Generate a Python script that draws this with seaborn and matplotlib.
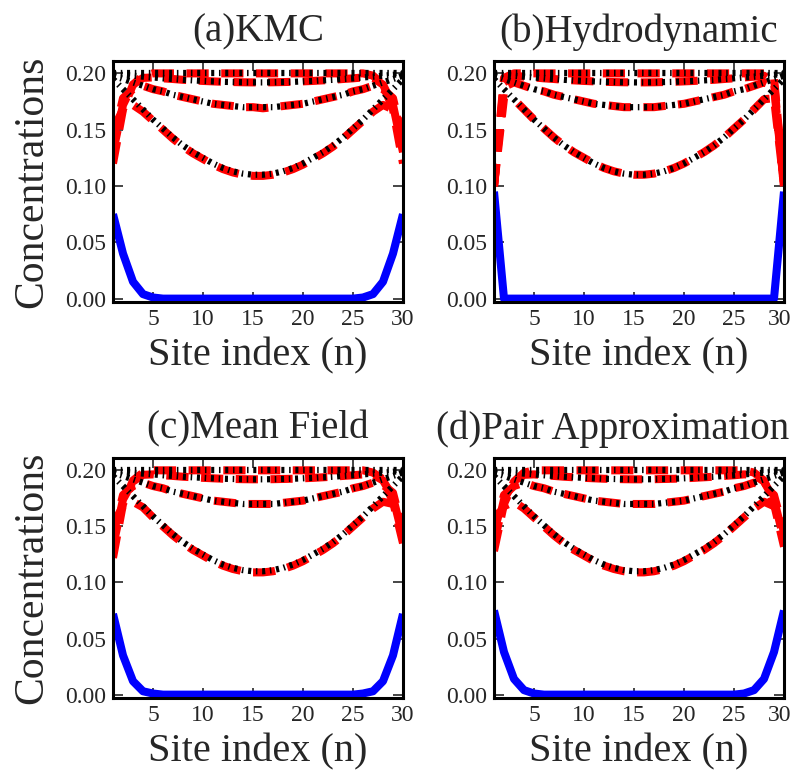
import matplotlib
matplotlib.use("Agg")
import matplotlib.pyplot as plt
import matplotlib.transforms as mtransforms
import seaborn as sns

sns.set_style("ticks")
plt.rcParams['font.family'] = ['Liberation Serif', 'DejaVu Serif']
plt.rcParams['lines.scale_dashes'] = False

sites = list(range(1, 31))
titles = ["(a)KMC", "(b)Hydrodynamic", "(c)Mean Field", "(d)Pair Approximation"]
xticks = [5, 10, 15, 20, 25, 30]
yticks = [0.00, 0.05, 0.10, 0.15, 0.20]
ytick_labels = ["0.00", "0.05", "0.10", "0.15", "0.20"]

# black dash-dot profiles (same in all panels)
black_flat = [0.200] * 30
black_upper = [0.1996, 0.1987, 0.1979, 0.1971, 0.1964, 0.1956, 0.1950, 0.1943, 0.1938, 0.1933,
               0.1929, 0.1925, 0.1923, 0.1921, 0.1920, 0.1920, 0.1921, 0.1923, 0.1925, 0.1929,
               0.1933, 0.1938, 0.1943, 0.1950, 0.1956, 0.1964, 0.1971, 0.1979, 0.1987, 0.1996]
black_mid = [0.198, 0.195, 0.192, 0.189, 0.186, 0.184, 0.181, 0.179, 0.177, 0.175,
             0.173, 0.172, 0.171, 0.170, 0.170, 0.170, 0.170, 0.171, 0.172, 0.173,
             0.175, 0.177, 0.179, 0.181, 0.184, 0.186, 0.189, 0.192, 0.195, 0.198]
black_low = [0.195, 0.186, 0.177, 0.168, 0.159, 0.151, 0.143, 0.136, 0.130, 0.125,
             0.120, 0.116, 0.113, 0.111, 0.110, 0.110, 0.111, 0.113, 0.116, 0.120,
             0.125, 0.130, 0.136, 0.143, 0.151, 0.159, 0.168, 0.177, 0.186, 0.195]

# red dashed profiles, panel (a) KMC
red_a_top = [0.120, 0.168, 0.190, 0.198] + [0.200] * 22 + [0.198, 0.190, 0.168, 0.120]
red_a_upper = [0.130, 0.172, 0.190, 0.196, 0.1964, 0.1956, 0.1950, 0.1943, 0.1938, 0.1933,
               0.1929, 0.1925, 0.1923, 0.1921, 0.1920, 0.1920, 0.1921, 0.1923, 0.1925, 0.1929,
               0.1933, 0.1938, 0.1943, 0.1950, 0.1956, 0.1964, 0.196, 0.190, 0.172, 0.130]
red_a_mid = [0.140, 0.178, 0.186, 0.189, 0.186, 0.184, 0.181, 0.179, 0.177, 0.175,
             0.173, 0.172, 0.171, 0.170, 0.170, 0.169, 0.170, 0.171, 0.172, 0.173,
             0.175, 0.177, 0.179, 0.181, 0.184, 0.186, 0.189, 0.186, 0.178, 0.140]
red_a_low = [0.150, 0.168, 0.172, 0.166, 0.158, 0.150, 0.142, 0.135, 0.129, 0.124,
             0.119, 0.115, 0.112, 0.110, 0.109, 0.109, 0.110, 0.112, 0.115, 0.119,
             0.124, 0.129, 0.135, 0.142, 0.150, 0.158, 0.166, 0.172, 0.168, 0.150]
blue_a = [0.075, 0.040, 0.015, 0.004, 0.001] + [0.0] * 20 + [0.001, 0.004, 0.015, 0.040, 0.075]

# panel (b) Hydrodynamic
red_b_top = [0.100, 0.196] + [0.200] * 26 + [0.196, 0.100]
red_b_upper = [0.100, 0.192, 0.1979, 0.1971, 0.1964, 0.1956, 0.1950, 0.1943, 0.1938, 0.1933,
               0.1929, 0.1925, 0.1923, 0.1921, 0.1920, 0.1920, 0.1921, 0.1923, 0.1925, 0.1929,
               0.1933, 0.1938, 0.1943, 0.1950, 0.1956, 0.1964, 0.1971, 0.1979, 0.192, 0.100]
red_b_mid = [0.100, 0.188, 0.192, 0.189, 0.186, 0.184, 0.181, 0.179, 0.177, 0.175,
             0.173, 0.172, 0.171, 0.170, 0.170, 0.170, 0.170, 0.171, 0.172, 0.173,
             0.175, 0.177, 0.179, 0.181, 0.184, 0.186, 0.189, 0.192, 0.188, 0.100]
red_b_low = [0.100, 0.178, 0.177, 0.168, 0.159, 0.151, 0.143, 0.136, 0.130, 0.125,
             0.120, 0.116, 0.113, 0.111, 0.110, 0.110, 0.111, 0.113, 0.116, 0.120,
             0.125, 0.130, 0.136, 0.143, 0.151, 0.159, 0.168, 0.177, 0.178, 0.100]
blue_b = [0.095] + [0.0] * 28 + [0.095]

# panel (c) Mean Field
red_c_top = [0.122, 0.170, 0.191, 0.198] + [0.200] * 22 + [0.198, 0.192, 0.172, 0.135]
red_c_upper = [0.132, 0.174, 0.190, 0.196, 0.1964, 0.1956, 0.1950, 0.1943, 0.1938, 0.1933,
               0.1929, 0.1925, 0.1923, 0.1921, 0.1920, 0.1920, 0.1921, 0.1923, 0.1925, 0.1929,
               0.1933, 0.1938, 0.1943, 0.1950, 0.1956, 0.1964, 0.196, 0.191, 0.176, 0.140]
red_c_mid = [0.142, 0.178, 0.186, 0.189, 0.186, 0.184, 0.181, 0.179, 0.177, 0.175,
             0.173, 0.172, 0.171, 0.170, 0.170, 0.170, 0.170, 0.171, 0.172, 0.173,
             0.175, 0.177, 0.179, 0.181, 0.184, 0.186, 0.189, 0.187, 0.180, 0.145]
red_c_low = [0.152, 0.168, 0.172, 0.167, 0.158, 0.150, 0.142, 0.135, 0.129, 0.124,
             0.119, 0.115, 0.112, 0.110, 0.109, 0.109, 0.110, 0.112, 0.115, 0.119,
             0.124, 0.129, 0.135, 0.142, 0.150, 0.158, 0.166, 0.172, 0.170, 0.152]
blue_c = [0.072, 0.035, 0.012, 0.003, 0.001] + [0.0] * 20 + [0.001, 0.003, 0.012, 0.035, 0.072]

# panel (d) Pair Approximation
red_d_top = [0.128, 0.170, 0.190, 0.198] + [0.200] * 22 + [0.198, 0.191, 0.170, 0.132]
red_d_upper = [0.135, 0.174, 0.190, 0.196, 0.1964, 0.1956, 0.1950, 0.1943, 0.1938, 0.1933,
               0.1929, 0.1925, 0.1923, 0.1921, 0.1920, 0.1920, 0.1921, 0.1923, 0.1925, 0.1929,
               0.1933, 0.1938, 0.1943, 0.1950, 0.1956, 0.1964, 0.196, 0.190, 0.174, 0.138]
red_d_mid = [0.145, 0.178, 0.186, 0.189, 0.186, 0.184, 0.181, 0.179, 0.177, 0.175,
             0.173, 0.172, 0.171, 0.170, 0.170, 0.170, 0.170, 0.171, 0.172, 0.173,
             0.175, 0.177, 0.179, 0.181, 0.184, 0.186, 0.189, 0.186, 0.178, 0.145]
red_d_low = [0.155, 0.168, 0.172, 0.166, 0.158, 0.150, 0.142, 0.135, 0.129, 0.124,
             0.119, 0.115, 0.112, 0.110, 0.109, 0.109, 0.110, 0.112, 0.115, 0.119,
             0.124, 0.129, 0.135, 0.142, 0.150, 0.158, 0.166, 0.172, 0.168, 0.155]
blue_d = [0.075, 0.038, 0.014, 0.004, 0.001] + [0.0] * 20 + [0.001, 0.004, 0.014, 0.038, 0.075]

red_sets = [
    [red_a_top, red_a_upper, red_a_mid, red_a_low],
    [red_b_top, red_b_upper, red_b_mid, red_b_low],
    [red_c_top, red_c_upper, red_c_mid, red_c_low],
    [red_d_top, red_d_upper, red_d_mid, red_d_low],
]
black_set = [black_flat, black_upper, black_mid, black_low]
blue_set = [blue_a, blue_b, blue_c, blue_d]

W, H = 791, 781
fig = plt.figure(figsize=(W / 100, H / 100), dpi=100)
positions = [
    [113 / W, 1 - 302 / H, 290 / W, 241 / H],
    [494 / W, 1 - 302 / H, 290 / W, 241 / H],
    [113 / W, 1 - 698 / H, 290 / W, 240 / H],
    [494 / W, 1 - 698 / H, 290 / W, 240 / H],
]

red_ls = (0, (16, 9))
black_ls = (0, (2.2, 3.4, 1.1, 3.4))

for i in range(4):
    ax = fig.add_axes(positions[i])
    sns.lineplot(x=sites, y=blue_set[i], ax=ax, color="#0000ff", lw=5.8,
                 estimator=None, sort=False, solid_capstyle="butt")
    for vals in red_sets[i]:
        sns.lineplot(x=sites, y=vals, ax=ax, color="#ff0000", lw=5.8,
                     linestyle=red_ls, estimator=None, sort=False,
                     dash_capstyle="butt")
    for vals in black_set:
        sns.lineplot(x=sites, y=vals, ax=ax, color="black", lw=4.5,
                     linestyle=black_ls, estimator=None, sort=False,
                     dash_capstyle="butt")
    ax.set_xlim(1, 30)
    ax.set_ylim(-0.003, 0.211)
    ax.set_xticks(xticks)
    ax.set_xticklabels([str(t) for t in xticks])
    ax.set_yticks(yticks)
    ax.set_yticklabels(ytick_labels)
    ax.tick_params(direction="in", top=True, right=True, length=7, width=1.2,
                   labelsize=17, pad=5)
    for sp in ax.spines.values():
        sp.set_linewidth(2.2)
        sp.set_color("black")
    if i % 2 == 1:
        # nudge the last x tick label so it stays inside the figure
        lbl = ax.get_xticklabels()[-1]
        lbl.set_transform(lbl.get_transform() +
                          mtransforms.ScaledTranslation(-4 / 100, 0, fig.dpi_scale_trans))
    if i == 3:
        ax.set_title(titles[i], fontsize=28, pad=14, x=(789 - 494) / 290, ha="right")
    else:
        ax.set_title(titles[i], fontsize=28, pad=14)
    ax.set_xlabel("Site index (n)", fontsize=29, labelpad=5)
    if i % 2 == 0:
        ax.set_ylabel("Concentrations", fontsize=30, labelpad=10)
    else:
        ax.set_ylabel("")

fig.savefig("out.png", dpi=100)
